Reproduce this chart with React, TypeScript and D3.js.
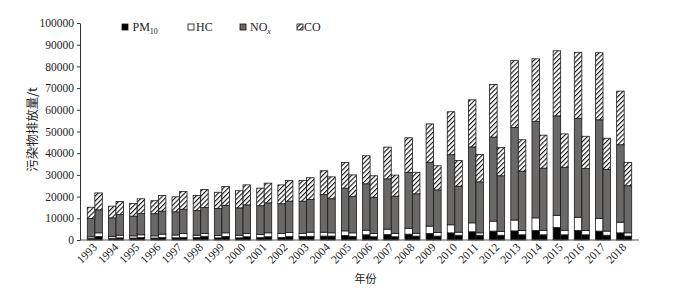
import React, { useEffect, useRef } from "react";
import * as d3 from "d3";

const W = 675;
const H = 291;
const MARGIN = { top: 23, right: 36, bottom: 51, left: 80 };

const years = [
  "1993", "1994", "1995", "1996", "1997", "1998", "1999", "2000", "2001",
  "2002", "2003", "2004", "2005", "2006", "2007", "2008", "2009", "2010",
  "2011", "2012", "2013", "2014", "2015", "2016", "2017", "2018",
];
const pairs = ["a", "b"];
const keys = ["pm10", "hc", "nox", "co"];
const yTicks = [0, 10000, 20000, 30000, 40000, 50000, 60000, 70000, 80000, 90000, 100000];

// first bar of each year
const pm10A = [800, 800, 900, 900, 1000, 1100, 1000, 1000, 1100, 1200, 1600, 1800, 2100, 2400, 2500, 2700, 3000, 3300, 3800, 4100, 4200, 4400, 5800, 4400, 4100, 3300];
const hcA = [700, 800, 1000, 1000, 1300, 1100, 1100, 1200, 1400, 1800, 1400, 1800, 2100, 2100, 2500, 2700, 3400, 3700, 4100, 4600, 5000, 5800, 5600, 6100, 5900, 4900];
const noxA = [8400, 8600, 9100, 10200, 10700, 11400, 12400, 12600, 13300, 13700, 14900, 17400, 19700, 21400, 23200, 25800, 29300, 32300, 35000, 38700, 42600, 44500, 45800, 45600, 45400, 35700];
const coA = [5200, 5400, 5800, 6000, 6900, 6900, 7500, 7900, 8100, 8700, 9500, 10900, 11800, 12900, 14600, 15900, 17800, 19800, 21700, 24300, 31000, 28800, 30000, 30400, 30900, 24700];

// second bar of each year
const pm10B = [1600, 1000, 1100, 1100, 1200, 1700, 1600, 1500, 1500, 1600, 1700, 1800, 1700, 1500, 1500, 1800, 1800, 2200, 2200, 2200, 2400, 2400, 2400, 2400, 2200, 1800];
const hcB = [1700, 1200, 1300, 1600, 1800, 1300, 1700, 1500, 1800, 1900, 1900, 1500, 1600, 1500, 1600, 1300, 1700, 1400, 1100, 1700, 2000, 2100, 2100, 2000, 1900, 1500];
const noxB = [10600, 9600, 9800, 10600, 11200, 12000, 12700, 13200, 13800, 14400, 15100, 15700, 16700, 16700, 17100, 18200, 19600, 21200, 23500, 25700, 27300, 28600, 29000, 28500, 28400, 21700];
const coB = [7800, 5900, 6800, 7200, 8100, 8300, 8700, 9200, 9100, 9500, 10000, 10100, 10000, 9900, 9700, 9900, 11100, 11800, 12600, 13000, 14500, 15200, 15400, 14900, 14400, 10700];

const FILL = { pm10: "#000000", hc: "#ffffff", nox: "#6b6868", co: "url(#hatch)" };
const SERIF = "'Liberation Serif', 'Times New Roman', serif";
const CJK = "'Noto Sans CJK SC', sans-serif";

const App = () => {
  const yAxisRef = useRef(null);

  const boundsW = W - MARGIN.left - MARGIN.right;
  const boundsH = H - MARGIN.top - MARGIN.bottom;

  const rows = [
    ...years.map((y, i) => ({ year: y, pair: "a", pm10: pm10A[i], hc: hcA[i], nox: noxA[i], co: coA[i] })),
    ...years.map((y, i) => ({ year: y, pair: "b", pm10: pm10B[i], hc: hcB[i], nox: noxB[i], co: coB[i] })),
  ];
  const series = d3.stack().keys(keys)(rows);

  const xScale = d3.scaleBand().domain(years).range([0, boundsW]).paddingInner(0.29).paddingOuter(0.345);
  const xSub = d3.scaleBand().domain(pairs).range([0, xScale.bandwidth()]).padding(0);
  const yScale = d3.scaleLinear().domain([0, 100000]).range([boundsH, 0]);

  useEffect(() => {
    const g = d3.select(yAxisRef.current);
    g.selectAll("*").remove();
    g.call(
      d3.axisLeft(yScale).tickValues(yTicks).tickFormat(d3.format("d")).tickSize(3).tickSizeOuter(0).tickPadding(3)
    );
    g.select(".domain").attr("stroke", "#333");
    g.selectAll(".tick line").attr("stroke", "#333");
    g.selectAll(".tick text")
      .attr("fill", "#222")
      .style("font-family", SERIF)
      .style("font-size", "11.5px");
  }, []);

  return (
    <svg width={W} height={H} style={{ position: "absolute", left: 0, top: 0, background: "#fff" }}>
      <defs>
        <pattern id="hatch" patternUnits="userSpaceOnUse" width="3.4" height="3.4" patternTransform="rotate(45)">
          <rect width="3.4" height="3.4" fill="#fff" />
          <line x1="0" y1="0" x2="0" y2="3.4" stroke="#111" strokeWidth="2.2" />
        </pattern>
      </defs>

      <g transform={`translate(${MARGIN.left},${MARGIN.top})`}>
        {series.map((s) => (
          <g key={s.key}>
            {s.map((d, j) => (
              <rect
                key={j}
                x={xScale(d.data.year) + xSub(d.data.pair)}
                y={yScale(d[1])}
                width={xSub.bandwidth()}
                height={yScale(d[0]) - yScale(d[1])}
                fill={FILL[s.key]}
                stroke="#1a1a1a"
                strokeWidth={0.8}
              />
            ))}
          </g>
        ))}
        <line x1={0} x2={boundsW} y1={boundsH} y2={boundsH} stroke="#555" strokeWidth={1} />
        <g ref={yAxisRef} />

        {years.map((y) => (
          <text
            key={y}
            transform={`translate(${xScale(y) + xScale.bandwidth() / 2 + 3},${boundsH + 8}) rotate(-45)`}
            textAnchor="end"
            fontFamily={SERIF}
            fontSize={11.5}
            fill="#222"
          >
            {y}
          </text>
        ))}

        <text x={boundsW / 2 + 6} y={boundsH + 43} textAnchor="middle" fontFamily={CJK} fontSize={11} fill="#222">
          年份
        </text>
        <text
          transform={`translate(-43,${boundsH / 2 - 2}) rotate(-90)`}
          textAnchor="middle"
          fontFamily={CJK}
          fontSize={12.5}
          fill="#222"
        >
          污染物排放量/t
        </text>
      </g>

      <g transform="translate(122,24)" fontFamily={SERIF} fontSize={12} fill="#222">
        <rect x={0} y={0} width={6} height={6} fill="#000" stroke="#111" strokeWidth={0.8} />
        <text x={10.5} y={7}>
          PM<tspan fontSize={8} dy={3}>10</tspan>
        </text>
        <rect x={66} y={0} width={6} height={6} fill="#fff" stroke="#111" strokeWidth={0.8} />
        <text x={74} y={7}>HC</text>
        <rect x={118} y={0} width={6} height={6} fill="#6b6868" stroke="#111" strokeWidth={0.8} />
        <text x={128} y={7}>
          NO<tspan fontSize={8} dy={3} fontStyle="italic">x</tspan>
        </text>
        <rect x={175} y={0} width={6} height={6} fill="url(#hatch)" stroke="#111" strokeWidth={0.8} />
        <text x={182} y={7}>CO</text>
      </g>
    </svg>
  );
};

export default App;
